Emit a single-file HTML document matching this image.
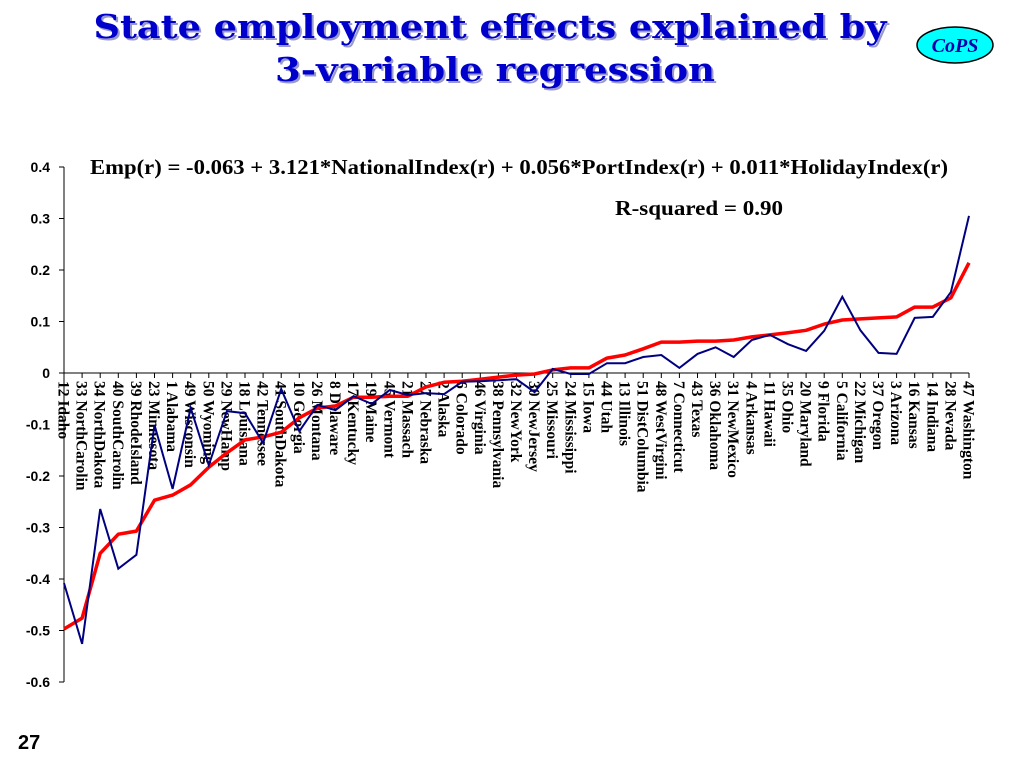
<!DOCTYPE html>
<html><head><meta charset="utf-8"><style>
body{margin:0;background:#fff;width:1024px;height:768px;overflow:hidden}
svg{display:block}
</style></head><body>
<svg id="c" width="1024" height="768">
<text x="490" y="38" text-anchor="middle" font-family="DejaVu Serif" font-weight="bold" font-size="33" fill="#9999cc" textLength="793" lengthAdjust="spacingAndGlyphs" transform="translate(2,2)">State employment effects explained by</text>
<text x="495" y="81" text-anchor="middle" font-family="DejaVu Serif" font-weight="bold" font-size="33" fill="#9999cc" textLength="440" lengthAdjust="spacingAndGlyphs" transform="translate(2,2)">3-variable regression</text>
<text x="490" y="38" text-anchor="middle" font-family="DejaVu Serif" font-weight="bold" font-size="33" fill="#0000cc" textLength="793" lengthAdjust="spacingAndGlyphs">State employment effects explained by</text>
<text x="495" y="81" text-anchor="middle" font-family="DejaVu Serif" font-weight="bold" font-size="33" fill="#0000cc" textLength="440" lengthAdjust="spacingAndGlyphs">3-variable regression</text>
<g>
<ellipse cx="955" cy="45" rx="38" ry="18" fill="#00ffff" stroke="#000" stroke-width="1.5"/>
<text x="955" y="52" text-anchor="middle" font-family="Liberation Serif" font-style="italic" font-weight="bold" font-size="20" fill="#0000aa">CoPS</text>
</g>
<text x="90" y="174" font-family="Liberation Serif" font-weight="bold" font-size="21" textLength="858" lengthAdjust="spacingAndGlyphs">Emp(r) = -0.063 + 3.121*NationalIndex(r) + 0.056*PortIndex(r) + 0.011*HolidayIndex(r)</text>
<text x="615" y="215" font-family="Liberation Serif" font-weight="bold" font-size="21" textLength="168" lengthAdjust="spacingAndGlyphs">R-squared = 0.90</text>
<text x="18" y="749" font-family="Liberation Sans" font-weight="bold" font-size="20">27</text>
<g id="axes"></g><g id="marks"></g>
</svg>
<script>
const categories=["12 Idaho","33 NorthCarolin","34 NorthDakota","40 SouthCarolin","39 RhodeIsland","23 Minnesota","1 Alabama","49 Wisconsin","50 Wyoming","29 NewHamp","18 Louisiana","42 Tennessee","41 SouthDakota","10 Georgia","26 Montana","8 Delaware","17 Kentucky","19 Maine","45 Vermont","21 Massach","27 Nebraska","2 Alaska","6 Colorado","46 Virginia","38 Pennsylvania","32 NewYork","30 NewJersey","25 Missouri","24 Mississippi","15 Iowa","44 Utah","13 Illinois","51 DistColumbia","48 WestVirgini","7 Connecticut","43 Texas","36 Oklahoma","31 NewMexico","4 Arkansas","11 Hawaii","35 Ohio","20 Maryland","9 Florida","5 California","22 Michigan","37 Oregon","3 Arizona","16 Kansas","14 Indiana","28 Nevada","47 Washington"];
const predicted=[-0.497,-0.476,-0.35,-0.313,-0.307,-0.247,-0.237,-0.217,-0.183,-0.155,-0.13,-0.124,-0.115,-0.087,-0.068,-0.064,-0.047,-0.047,-0.045,-0.045,-0.027,-0.018,-0.016,-0.012,-0.008,-0.004,-0.002,0.006,0.01,0.01,0.029,0.035,0.047,0.06,0.06,0.062,0.062,0.064,0.07,0.074,0.078,0.083,0.095,0.103,0.105,0.107,0.109,0.128,0.128,0.146,0.214];
const actual=[-0.408,-0.526,-0.264,-0.38,-0.353,-0.101,-0.225,-0.068,-0.179,-0.074,-0.078,-0.136,-0.031,-0.113,-0.062,-0.072,-0.045,-0.06,-0.033,-0.043,-0.039,-0.041,-0.017,-0.016,-0.014,-0.012,-0.037,0.008,-0.002,-0.002,0.019,0.019,0.031,0.035,0.01,0.037,0.05,0.031,0.064,0.074,0.056,0.043,0.082,0.148,0.083,0.039,0.037,0.107,0.109,0.157,0.305];
const yTicks=[0.4,0.3,0.2,0.1,0,-0.1,-0.2,-0.3,-0.4,-0.5,-0.6];
const yTickLabels=["0.4","0.3","0.2","0.1","0","-0.1","-0.2","-0.3","-0.4","-0.5","-0.6"];
const NS="http://www.w3.org/2000/svg";
const X0=64,X1=969;
const xS=i=>X0+(X1-X0)*i/(categories.length-1);
const yS=v=>373-v*515;
function mk(t,a,p){const e=document.createElementNS(NS,t);for(const k in a)e.setAttribute(k,a[k]);p.appendChild(e);return e;}
const ax=document.getElementById('axes'),mg=document.getElementById('marks');
const yl=mk('line',{x1:X0,y1:yS(0.4),x2:X0,y2:yS(-0.6),stroke:'#000','stroke-width':1},ax);


yTicks.forEach((v,i)=>{
 mk('line',{x1:X0-5,y1:yS(v),x2:X0,y2:yS(v),stroke:'#000'},ax);
 const t=mk('text',{x:50,y:yS(v)+5,'text-anchor':'end','font-family':'Liberation Sans','font-weight':'bold','font-size':14},ax);
 t.textContent=yTickLabels[i];
 
 
});
const xl=mk('line',{x1:X0,y1:yS(0),x2:X1,y2:yS(0),stroke:'#000','stroke-width':1},ax);


categories.forEach((c,i)=>{
 const x=xS(i);
 mk('line',{x1:x,y1:yS(0),x2:x,y2:yS(0)+5,stroke:'#000'},ax);
 const t=mk('text',{x:0,y:0,transform:`translate(${x-5.5},${yS(0)+8}) rotate(90)`,'font-family':'Liberation Serif','font-weight':'bold','font-size':15.5},ax);
 t.textContent=c;
 
 
});
const pts=a=>a.map((v,i)=>xS(i).toFixed(1)+','+yS(v).toFixed(1)).join(' ');
const rl=mk('polyline',{points:pts(predicted),fill:'none',stroke:'#ff0000','stroke-width':3.5,'stroke-linejoin':'round'},mg);


const bl=mk('polyline',{points:pts(actual),fill:'none',stroke:'#000080','stroke-width':2,'stroke-linejoin':'miter'},mg);


</script>
</body></html>
